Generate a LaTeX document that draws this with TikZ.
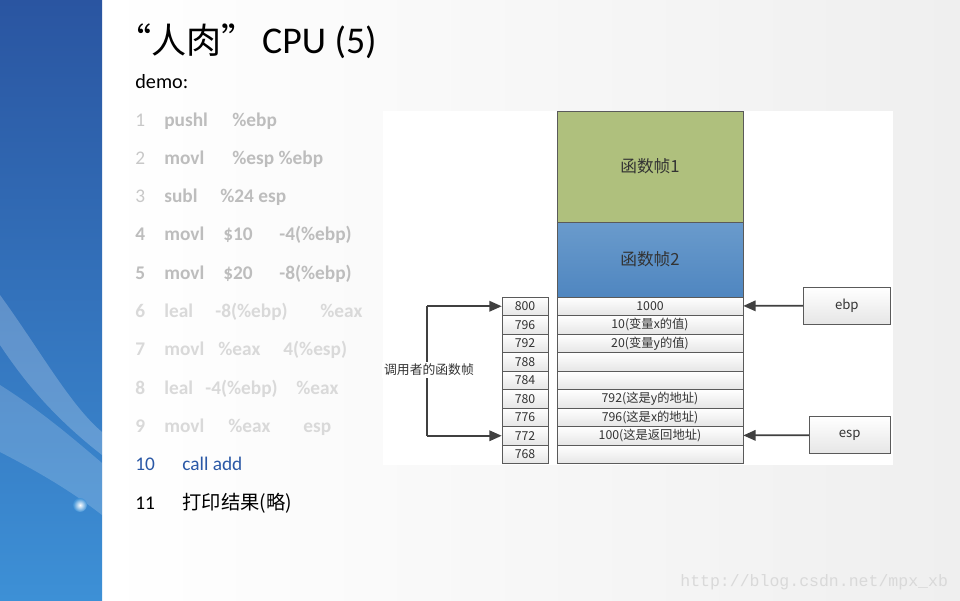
\documentclass[tikz,border=0pt]{standalone}
\usepackage{fontspec}
\setmainfont{Carlito}
\newfontfamily\cjk{Noto Sans CJK SC}
\newfontfamily\wmfont{Liberation Mono}
\usetikzlibrary{arrows.meta}

\definecolor{barTop}{HTML}{2A55A1}
\definecolor{barBottom}{HTML}{3D90D6}
\definecolor{pageRight}{HTML}{EFEFEF}
\definecolor{frameGreen}{HTML}{AFC07D}
\definecolor{frameBlueTop}{HTML}{6A9BCC}
\definecolor{frameBlueBottom}{HTML}{4F86C0}
\definecolor{boxLine}{HTML}{5A5A5A}
\definecolor{cellGray}{HTML}{E6E6E6}
\definecolor{codeGray}{HTML}{BDBDBD}
\definecolor{codeDim}{HTML}{D9D9D9}
\definecolor{numGray}{HTML}{C8C8C8}
\definecolor{callBlue}{HTML}{2A58A6}
\definecolor{arrowGray}{HTML}{404040}

\begin{document}
\begin{tikzpicture}[x=0.02cm,y=-0.02cm,
    code/.style={anchor=base west, inner sep=0pt, font=\bfseries\fontsize{11}{13}\selectfont},
    lit/.style={code, text=codeGray},
    dim/.style={code, text=codeDim},
    litnum/.style={anchor=base west, inner sep=0pt, font=\fontsize{11}{13}\selectfont, text=numGray},
    frame box/.style={draw=boxLine, minimum width=3.72cm, inner sep=0pt, font=\cjk\fontsize{9.5}{11}\selectfont, text=black!80},
    addr box/.style={draw=boxLine, top color=white, bottom color=cellGray, minimum width=0.92cm, minimum height=0.37cm, inner sep=0pt, font=\cjk\fontsize{7}{8}\selectfont, text=black!80},
    cell box/.style={addr box, minimum width=3.72cm},
    reg box/.style={draw=boxLine, top color=white, bottom color=cellGray, minimum width=1.74cm, minimum height=0.74cm, inner sep=0pt, font=\cjk\fontsize{7.5}{9}\selectfont, text=black!80},
    pointer/.style={draw=arrowGray, line width=1pt, -{Triangle[length=7pt,width=6pt]}},
    ]
    \useasboundingbox (0,0) rectangle (960,600);

    % page background
    \shade[left color=white, right color=pageRight] (102,0) rectangle (960,600);
    \shade[top color=barTop, bottom color=barBottom] (0,0) rectangle (102,600);
    \fill[white, opacity=0.22] (0,295) .. controls (40,350) and (70,405) .. (102,432) -- (102,455) .. controls (60,422) and (30,390) .. (0,345) -- cycle;
    \fill[white, opacity=0.18] (0,385) .. controls (40,410) and (75,440) .. (102,463) -- (102,515) .. controls (70,490) and (35,470) .. (0,452) -- cycle;
    \shade[inner color=white, outer color=barBottom] (80,505) circle (7);

    % title and code
    \node[anchor=base west, inner sep=0pt, font=\fontsize{21.5}{24}\selectfont] (title) at (116,53) {{\cjk\fontsize{20}{24}\selectfont “人肉”}\hspace{3pt}CPU (5)};
    \node[anchor=base west, inner sep=0pt, font=\fontsize{11.5}{13}\selectfont] (demo) at (135,88) {demo:};

    \node[litnum] (n1) at (135,126) {1};
    \node[lit] (op1) at (164,126) {pushl};
    \node[lit] (a1) at (232,126) {\%ebp};

    \node[litnum] (n2) at (135,164.3) {2};
    \node[lit] (op2) at (164,164.3) {movl};
    \node[lit] (a2) at (232,164.3) {\%esp \%ebp};

    \node[litnum] (n3) at (135,202.6) {3};
    \node[lit] (op3) at (164,202.6) {subl};
    \node[lit] (a3) at (220,202.6) {\%24 esp};

    \node[lit] (n4) at (135,240.9) {4};
    \node[lit] (op4) at (164,240.9) {movl};
    \node[lit] (a4) at (223,240.9) {\$10};
    \node[lit] (b4) at (279,240.9) {-4(\%ebp)};

    \node[lit] (n5) at (135,279.2) {5};
    \node[lit] (op5) at (164,279.2) {movl};
    \node[lit] (a5) at (223,279.2) {\$20};
    \node[lit] (b5) at (279,279.2) {-8(\%ebp)};

    \node[dim] (n6) at (135,317.5) {6};
    \node[dim] (op6) at (164,317.5) {leal};
    \node[dim] (a6) at (215,317.5) {-8(\%ebp)};
    \node[dim] (b6) at (320,317.5) {\%eax};

    \node[dim] (n7) at (135,355.8) {7};
    \node[dim] (op7) at (164,355.8) {movl};
    \node[dim] (a7) at (218,355.8) {\%eax};
    \node[dim] (b7) at (283,355.8) {4(\%esp)};

    \node[dim] (n8) at (135,394.1) {8};
    \node[dim] (op8) at (164,394.1) {leal};
    \node[dim] (a8) at (205,394.1) {-4(\%ebp)};
    \node[dim] (b8) at (296,394.1) {\%eax};

    \node[dim] (n9) at (135,432.4) {9};
    \node[dim] (op9) at (164,432.4) {movl};
    \node[dim] (a9) at (228,432.4) {\%eax};
    \node[dim] (b9) at (303,432.4) {esp};

    \node[litnum, text=callBlue] (n10) at (135,470.7) {10};
    \node[litnum, text=callBlue] (op10) at (182,470.7) {call add};

    \node[litnum, text=black] (n11) at (135,509) {11};
    \node[litnum, text=black, font=\cjk\fontsize{11}{13}\selectfont] (op11) at (182,509) {打印结果(略)};

    % stack picture
    \fill[white] (383,111) rectangle (893,465);
    \node[frame box, fill=frameGreen, minimum height=2.22cm] (frame1) at (650,166.5) {函数帧1};
    \node[frame box, top color=frameBlueTop, bottom color=frameBlueBottom, minimum height=1.5cm] (frame2) at (650,259.5) {函数帧2};

    \foreach \i/\ad/\val in {1/800/1000, 2/796/10(变量x的值), 3/792/20(变量y的值), 4/788/, 5/784/,
                             6/780/792(这是y的地址), 7/776/796(这是x的地址), 8/772/100(这是返回地址), 9/768/} {
        \node[addr box] (addr\i) at (525,306.25+18.5*\i-18.5) {\ad};
        \node[cell box] (cell\i) at (650,306.25+18.5*\i-18.5) {\val};
    }

    \node[reg box] (ebp) at (846.8,305.5) {ebp};
    \node[reg box, minimum width=1.62cm] (esp) at (849.7,435) {esp};
    \draw[pointer] (ebp) -- (cell1);
    \draw[pointer] (esp) -- (cell8);

    \coordinate (top) at (427,0 |- addr1.west);
    \coordinate (bot) at (427,0 |- addr8.west);
    \draw[pointer] (top) -- (addr1);
    \draw[pointer] (bot) -- (addr8);
    \draw[draw=arrowGray, line width=1pt] (top) -- (bot);
    \node[fill=white, inner sep=1pt, font=\cjk\fontsize{7.3}{9}\selectfont, text=black!80] (caller) at (429,370) {调用者的函数帧};

    % watermark
    \node[anchor=base west, inner sep=0pt, font=\wmfont\fontsize{9.4}{11}\selectfont, text=codeDim] (mark) at (680,586) {http://blog.csdn.net/mpx\_xb};
\end{tikzpicture}
\end{document}
